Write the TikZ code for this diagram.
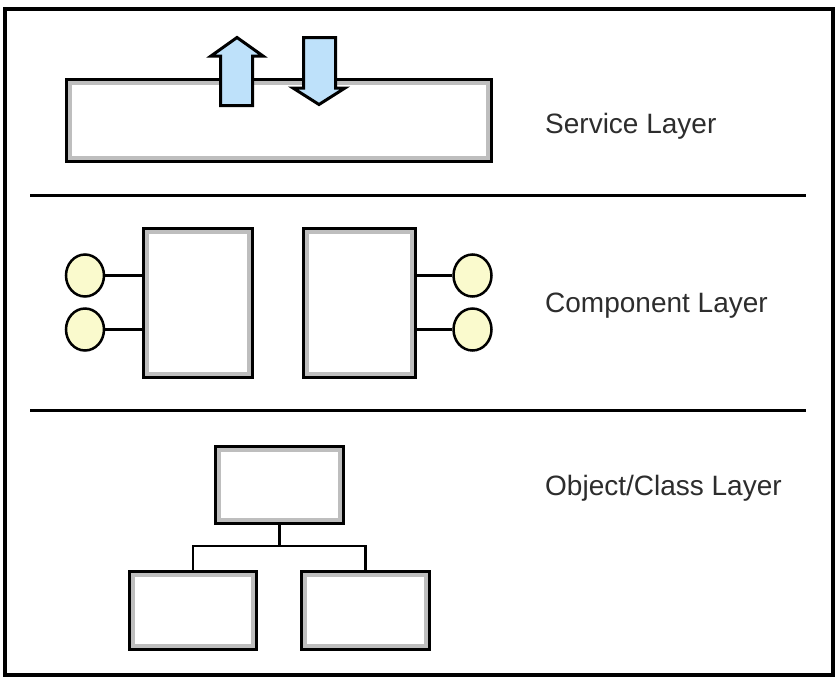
\documentclass[tikz,border=0pt]{standalone}
\usepackage{fontspec}
\setmainfont{Liberation Sans}
\usetikzlibrary{shapes.geometric}
\definecolor{arrowblue}{RGB}{190,225,250}
\definecolor{portyellow}{RGB}{250,250,205}
\definecolor{bandgray}{RGB}{190,190,190}
\definecolor{labelgray}{RGB}{45,45,45}
\tikzset{
  layerbox/.style={rectangle, draw=black, line width=3pt, fill=white, inner sep=0pt,
    path picture={\draw[bandgray, line width=11pt] (path picture bounding box.south west) rectangle (path picture bounding box.north east);}},
  port/.style={ellipse, draw=black, line width=2.5pt, fill=portyellow, minimum width=38pt, minimum height=42pt, inner sep=0pt},
  link/.style={line width=2.5pt},
  stem/.style={line width=3pt},
  divider/.style={line width=3pt},
  frame/.style={line width=3.5pt},
  flowarrow/.style={draw=black, line width=3pt, fill=arrowblue, line join=miter},
  layerlabel/.style={anchor=base west, inner sep=0pt, font=\fontsize{28}{34}\selectfont, text=labelgray},
}
\begin{document}
\begin{tikzpicture}[x=1pt, y=-1pt]
\useasboundingbox[fill=white] (0,0) rectangle (838,681);
% outer frame
\draw[frame] (5,9) rectangle (833,675);

% ---------- Service layer ----------
\node[layerbox, minimum width=425pt, minimum height=82pt] (svc) at (279,120.5) {};
\draw[flowarrow] (220.5,105.5) -- (220.5,56) -- (211,56) -- (237,37.5) -- (263,56) -- (252.5,56) -- (252.5,105.5) -- cycle;
\draw[flowarrow] (303.5,37.5) -- (335.5,37.5) -- (335.5,88) -- (345,88) -- (319,104.5) -- (293,88) -- (303.5,88) -- cycle;
\node[layerlabel] (svclabel) at (545,133) {Service Layer};

\coordinate (d1l) at (30,195);
\coordinate (d1r) at (806,195);
\draw[divider] (d1l) -- (d1r);

% ---------- Component layer ----------
\node[layerbox, minimum width=109pt, minimum height=149pt] (cl) at (198,303) {};
\node[layerbox, minimum width=112pt, minimum height=149pt] (cr) at (359.5,303) {};
\node[port] (pl1) at (85,275.5) {};
\node[port] (pl2) at (85,329.5) {};
\node[port] (pr1) at (472.5,275.5) {};
\node[port] (pr2) at (472.5,329.5) {};
\draw[link] (pl1.east) -- (pl1.east -| cl.west);
\draw[link] (pl2.east) -- (pl2.east -| cl.west);
\draw[link] (pr1.west) -- (pr1.west -| cr.east);
\draw[link] (pr2.west) -- (pr2.west -| cr.east);
\node[layerlabel] (complabel) at (545,312) {Component Layer};

\coordinate (d2l) at (30,410.5);
\coordinate (d2r) at (806,410.5);
\draw[divider] (d2l) -- (d2r);

% ---------- Object/Class layer ----------
\node[layerbox, minimum width=128pt, minimum height=77pt] (otop) at (279.5,485) {};
\node[layerbox, minimum width=127pt, minimum height=78pt] (obl) at (193,610.5) {};
\node[layerbox, minimum width=128pt, minimum height=78pt] (obr) at (365.5,610.5) {};
\coordinate (junc) at (279.5,546);
\draw[stem] (otop.south) -- (junc);
\draw[link] (obl.north) |- (junc) -| (obr.north);
\node[layerlabel] (objlabel) at (545,495) {Object/Class Layer};
\end{tikzpicture}
\end{document}
